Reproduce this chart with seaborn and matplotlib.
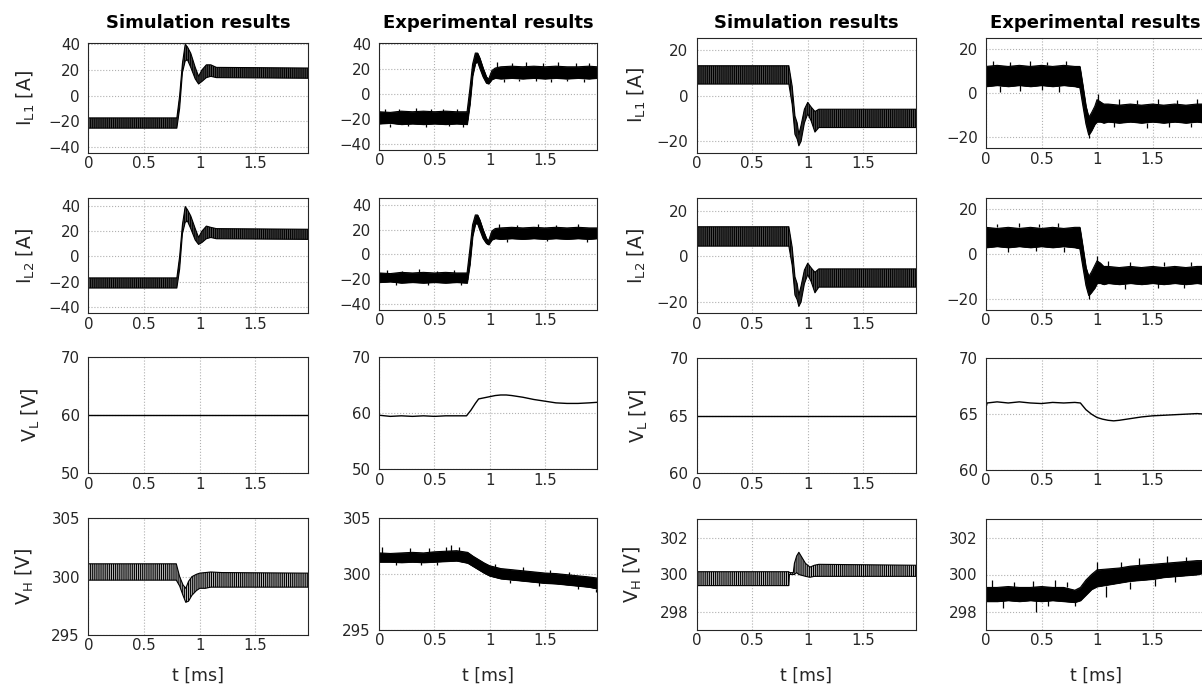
import numpy as np
import pandas as pd
import seaborn as sns
import matplotlib.pyplot as plt

# ---- case A (left half): step of the inductor currents from -20 A to +17 A ----
tA_sim_il = [0, 0.795, 0.82, 0.845, 0.87, 0.89, 0.92, 0.96, 0.99, 1.02, 1.06, 1.10, 1.15, 1.975]
simA_il1_hi = [-17.5, -17.5, 0, 25, 40, 38, 33, 22, 15, 20, 24, 24, 22, 21.5]
simA_il1_lo = [-25.5, -25.5, -10, 18, 27, 28, 22, 13, 9, 11, 14, 15, 14, 13.5]
simA_il2_hi = [-17, -17, 0, 25, 39.5, 37, 32, 22, 15, 20, 24, 23, 22, 21.5]
simA_il2_lo = [-25, -25, -10, 18, 27, 28, 22, 13, 9.5, 11, 14, 15, 14, 13.5]

tA_exp_il = [0, 0.1, 0.2, 0.3, 0.4, 0.5, 0.6, 0.7, 0.795, 0.82, 0.845, 0.87, 0.89, 0.91, 0.94, 0.97,
             0.99, 1.02, 1.05, 1.1, 1.2, 1.3, 1.4, 1.5, 1.6, 1.7, 1.8, 1.9, 1.975]
expA_il1_hi = [-14, -14.5, -13.5, -14, -13.5, -14, -13.5, -14, -14, 4, 24, 33, 33, 29, 21, 14,
               12, 19, 21, 22, 22.5, 22, 22.5, 22, 22.5, 22, 22, 22.5, 22]
expA_il1_lo = [-23.5, -23, -24, -23.5, -24, -23.5, -24, -23.5, -24, -8, 15, 25, 26, 21, 14, 9,
               8.5, 12, 13, 12.5, 13, 12.5, 13, 12.5, 13, 12.5, 13, 12.5, 13]
expA_il2_hi = [-15, -15.5, -14.5, -15, -14.5, -15, -14.5, -15, -15, 4, 24, 32, 32, 28, 20, 13,
               11, 19, 21, 21.5, 22, 21.5, 22, 21.5, 22, 21.5, 22, 21.5, 21.5]
expA_il2_lo = [-22.5, -22, -23, -22.5, -23, -22.5, -23, -22.5, -23, -8, 15, 25, 25, 20, 13, 9,
               8, 12, 13, 12.5, 13, 12.5, 13, 12.5, 13, 12.5, 13, 12.5, 13]
# noise spikes sticking out of the experimental bands: time, from, to
spkA_il1_t = [0.05, 0.18, 0.33, 0.47, 0.58, 0.7, 0.1, 0.26, 0.42, 0.63, 0.76,
              1.07, 1.2, 1.33, 1.48, 1.62, 1.78, 1.9, 1.13, 1.27, 1.42, 1.56, 1.7, 1.85]
spkA_il1_y0 = [-14, -14, -14, -14, -14, -14, -23.5, -23.5, -24, -24, -24,
               22, 22.5, 22, 22, 22.5, 22, 22, 12.5, 12.5, 13, 12.5, 12.5, 12.5]
spkA_il1_y1 = [-11.5, -12, -11, -11.5, -12, -11.5, -26, -25.5, -26, -25.5, -26,
               26, 25, 25.5, 25, 25.5, 25, 25, 10, 10.5, 10.5, 10, 10.5, 10]
spkA_il2_t = [0.07, 0.21, 0.36, 0.52, 0.68, 0.15, 0.44, 0.74, 1.08, 1.25, 1.44, 1.6, 1.8, 1.16, 1.52, 1.88]
spkA_il2_y0 = [-15, -15, -15, -15, -15, -22.5, -22.5, -22.5, 21.5, 22, 22, 22, 22, 12.5, 12.5, 12.5]
spkA_il2_y1 = [-12.5, -13, -12, -13, -12.5, -25, -24.5, -25, 24.5, 24, 25, 24, 25, 10, 10.5, 10]

tA_sim_vl = [0, 1.975]
simA_vl = [60, 60]
tA_exp_vl = [0, 0.1, 0.2, 0.3, 0.4, 0.5, 0.6, 0.7, 0.79, 0.83, 0.87, 0.9, 0.95, 1.0, 1.05, 1.1,
             1.15, 1.2, 1.3, 1.4, 1.5, 1.6, 1.7, 1.8, 1.9, 1.975]
expA_vl = [59.6, 59.4, 59.5, 59.4, 59.5, 59.4, 59.5, 59.5, 59.5, 60.5, 61.7, 62.5, 62.7, 62.9, 63.1, 63.2,
           63.2, 63.1, 62.8, 62.4, 62.1, 61.8, 61.7, 61.7, 61.8, 61.9]

tA_sim_vh = [0, 0.79, 0.82, 0.85, 0.875, 0.9, 0.93, 0.97, 1.0, 1.05, 1.1, 1.2, 1.975]
simA_vh_hi = [301.1, 301.1, 300.0, 299.3, 299.0, 299.6, 300.0, 300.2, 300.3, 300.35, 300.4, 300.35, 300.3]
simA_vh_lo = [299.7, 299.7, 299.2, 298.4, 297.8, 297.9, 298.4, 298.8, 299.0, 299.0, 299.1, 299.1, 299.1]

tA_exp_vh = [0, 0.1, 0.2, 0.3, 0.4, 0.5, 0.6, 0.7, 0.8, 0.85, 0.9, 0.95, 1.0, 1.1, 1.2, 1.3,
             1.4, 1.5, 1.6, 1.7, 1.8, 1.9, 1.975]
expA_vh_hi = [301.9, 301.85, 301.9, 301.95, 301.9, 302.0, 302.05, 302.1, 301.95, 301.6, 301.3, 301.0, 300.75,
              300.5, 300.4, 300.3, 300.2, 300.1, 300.05, 299.95, 299.85, 299.75, 299.65]
expA_vh_lo = [301.1, 301.1, 301.05, 301.1, 301.05, 301.1, 301.15, 301.2, 301.0, 300.7, 300.4, 300.1, 299.85,
              299.6, 299.5, 299.4, 299.3, 299.2, 299.15, 299.05, 298.95, 298.85, 298.7]
spkA_vh_t = [0.02, 0.28, 0.45, 0.6, 0.65, 0.72, 0.15, 0.38, 0.52, 1.05, 1.3, 1.55, 1.72, 1.18, 1.45, 1.8, 1.96]
spkA_vh_y0 = [301.9, 301.9, 301.9, 302.0, 302.1, 302.1, 301.1, 301.1, 301.1, 300.6, 300.3, 300.1, 299.9,
              299.5, 299.3, 299.0, 298.7]
spkA_vh_y1 = [302.4, 302.3, 302.35, 302.4, 302.6, 302.4, 300.8, 300.85, 300.8, 300.95, 300.6, 300.4, 300.2,
              299.2, 298.95, 298.7, 298.4]

# ---- case B (right half): step of the inductor currents from +9 A to -10 A ----
tB_sim_il = [0, 0.83, 0.86, 0.885, 0.905, 0.92, 0.94, 0.97, 1.0, 1.03, 1.065, 1.1, 1.975]
simB_il1_hi = [13, 13, 4, -9, -12, -17, -13, -6, -3, -5, -7, -6, -6]
simB_il1_lo = [5, 5, -4, -17, -19, -22, -20, -12, -8, -11, -16, -14, -14]
simB_il2_hi = [13, 13, 4, -9, -12, -17, -13, -6, -3, -5, -7, -5.5, -5.5]
simB_il2_lo = [4.5, 4.5, -4, -17, -19, -22, -20, -12, -8, -11, -16, -13.5, -13.5]

tB_exp_il = [0, 0.1, 0.2, 0.3, 0.4, 0.5, 0.6, 0.7, 0.8, 0.845, 0.87, 0.9, 0.925, 0.95, 0.98, 1.0,
             1.03, 1.06, 1.1, 1.2, 1.3, 1.4, 1.5, 1.6, 1.7, 1.8, 1.9, 1.975]
expB_il1_hi = [12, 12.5, 12, 12.5, 12, 12.5, 12, 12.5, 12, 12, 4, -6, -11, -9, -6, -3,
               -4, -5, -5, -5.5, -5, -5.5, -5, -5.5, -5, -5.5, -5, -5]
expB_il1_lo = [3, 3.5, 3, 3.5, 3, 3.5, 3, 3.5, 3, 2.5, -5, -14, -19, -17, -14, -13,
               -13, -13.5, -13, -13.5, -13, -13.5, -13, -13.5, -13, -13.5, -13, -13.5]
expB_il2_hi = [12, 11.5, 12, 11.5, 12, 11.5, 12, 11.5, 12, 12, 4, -6, -10, -8, -5, -3,
               -4, -5.5, -5.5, -6, -5.5, -6, -5.5, -6, -5.5, -6, -5.5, -5.5]
expB_il2_lo = [3, 3.5, 3, 3.5, 3, 3.5, 3, 3.5, 3, 2.5, -5, -14, -18.5, -17, -15, -13,
               -13, -13.5, -13, -13.5, -13, -13.5, -13, -13.5, -13, -13.5, -13, -13.5]
spkB_il1_t = [0.06, 0.22, 0.4, 0.55, 0.72, 0.13, 0.31, 0.5, 0.66,
              1.01, 1.2, 1.36, 1.55, 1.72, 1.9, 0.93, 1.15, 1.45, 1.65, 1.85]
spkB_il1_y0 = [12, 12, 12, 12.5, 12.5, 3, 3.5, 3.5, 3,
               -3, -5.5, -5, -5, -5, -5, -19, -13, -13.5, -13, -13.5]
spkB_il1_y1 = [14.5, 14, 14.5, 14, 14.5, 0.5, 1, 1.5, 0.5,
               -0.5, -2.5, -3, -2.5, -3, -2.5, -20.5, -15.5, -16, -15.5, -15.5]
spkB_il2_t = [0.1, 0.3, 0.48, 0.65, 0.2, 0.45, 0.7,
              1.0, 1.1, 1.3, 1.6, 1.85, 0.93, 1.25, 1.55, 1.78]
spkB_il2_y0 = [12, 12, 12, 12, 3, 3, 3, -3, -5.5, -5.5, -5.5, -5.5, -18.5, -13.5, -13, -13.5]
spkB_il2_y1 = [13.5, 14, 13.5, 14, 1, 1.5, 1, -1, -3, -3.5, -3.5, -3.5, -20, -15.5, -15, -15]

tB_sim_vl = [0, 1.975]
simB_vl = [65, 65]
tB_exp_vl = [0, 0.01, 0.1, 0.2, 0.3, 0.4, 0.5, 0.6, 0.7, 0.8, 0.85, 0.9, 0.95, 1.0, 1.05, 1.1,
             1.15, 1.2, 1.3, 1.4, 1.5, 1.6, 1.7, 1.8, 1.9, 1.975]
expB_vl = [65.6, 66.0, 66.1, 66.0, 66.1, 66.0, 65.95, 66.05, 66.0, 66.05, 66.0, 65.4, 65.0, 64.7, 64.55, 64.45,
           64.4, 64.45, 64.6, 64.75, 64.85, 64.9, 64.95, 65.0, 65.05, 65.0]

tB_sim_vh = [0, 0.83, 0.835, 0.87, 0.88, 0.9, 0.92, 0.95, 0.98, 1.02, 1.06, 1.1, 1.975]
simB_vh_hi = [300.15, 300.15, 300.1, 300.1, 300.6, 301.0, 301.2, 300.9, 300.6, 300.4, 300.5, 300.55, 300.5]
simB_vh_lo = [299.4, 299.4, 300.0, 300.0, 300.0, 300.1, 300.0, 299.95, 299.9, 299.85, 299.9, 299.9, 299.9]

tB_exp_vh = [0, 0.1, 0.2, 0.3, 0.4, 0.5, 0.6, 0.7, 0.8, 0.85, 0.9, 0.95, 1.0, 1.1, 1.2, 1.3,
             1.4, 1.5, 1.6, 1.7, 1.8, 1.9, 1.975]
expB_vh_hi = [299.3, 299.3, 299.35, 299.3, 299.3, 299.35, 299.3, 299.3, 299.15, 299.3, 299.7, 300.0, 300.25,
              300.3, 300.35, 300.45, 300.5, 300.55, 300.6, 300.65, 300.7, 300.75, 300.75]
expB_vh_lo = [298.55, 298.55, 298.6, 298.55, 298.6, 298.55, 298.6, 298.55, 298.5, 298.6, 298.9, 299.2, 299.35,
              299.45, 299.55, 299.65, 299.7, 299.75, 299.85, 299.9, 299.95, 300.0, 300.1]
spkB_vh_t = [0.05, 0.25, 0.42, 0.62, 0.73, 0.15, 0.45, 0.56, 0.8,
             1.0, 1.22, 1.38, 1.63, 1.8, 1.08, 1.3, 1.52, 1.7]
spkB_vh_y0 = [299.3, 299.3, 299.3, 299.3, 299.3, 298.6, 298.6, 298.6, 298.5,
              300.25, 300.35, 300.5, 300.6, 300.7, 299.4, 299.6, 299.75, 299.9]
spkB_vh_y1 = [299.7, 299.6, 299.65, 299.7, 299.6, 298.2, 298.0, 298.3, 298.3,
              300.7, 300.7, 300.9, 301.0, 300.95, 298.8, 299.2, 299.4, 299.6]

xticks = [0, 0.5, 1, 1.5]
xticklabels = ['0', '0.5', '1', '1.5']
titles = ['Simulation results', 'Experimental results', 'Simulation results', 'Experimental results']

sns.set_style('white')
plt.rcParams['font.family'] = ['DejaVu Sans']
plt.rcParams['mathtext.fontset'] = 'dejavusans'
plt.rcParams['hatch.color'] = 'black'
plt.rcParams['hatch.linewidth'] = 0.8

W, H = 1202, 690
fig = plt.figure(figsize=(W / 100, H / 100), dpi=100)

# pixel boxes (left, right) per column and (top, bottom) per column / row
col_x = [(88.3, 308.3), (379.3, 597.3), (696.7, 916.0), (986.0, 1205.3)]
row_y = [
    [(42.7, 152.7), (198.3, 313.3), (356.7, 473.3), (518.3, 635.0)],
    [(42.7, 150.0), (198.3, 310.0), (356.7, 469.3), (518.3, 630.0)],
    [(38.3, 152.7), (198.3, 313.3), (358.3, 473.3), (519.0, 630.0)],
    [(37.7, 148.3), (198.3, 310.0), (358.3, 470.0), (519.0, 630.0)],
]
ylims = [
    [(-44.7, 41.3), (-45, 46), (50, 70), (295, 305)],
    [(-44.6, 41.3), (-45, 45.5), (50, 70), (295, 305)],
    [(-25, 25), (-25, 25.5), (60, 70), (297, 303)],
    [(-25, 25), (-25, 25), (60, 70), (297, 303)],
]
yticks = [
    [[-40, -20, 0, 20, 40], [-40, -20, 0, 20, 40], [50, 60, 70], [295, 300, 305]],
    [[-40, -20, 0, 20, 40], [-40, -20, 0, 20, 40], [50, 60, 70], [295, 300, 305]],
    [[-20, 0, 20], [-20, 0, 20], [60, 65, 70], [298, 300, 302]],
    [[-20, 0, 20], [-20, 0, 20], [60, 65, 70], [298, 300, 302]],
]
ylabels = [r'I$_{\mathrm{L1}}$ [A]', r'I$_{\mathrm{L2}}$ [A]', r'V$_{\mathrm{L}}$ [V]', r'V$_{\mathrm{H}}$ [V]']
ylabel_off = [[-62.5, -62.5, -57.5, -63.3], None, [-60, -60, -57.5, -63.5], None]

# what goes in each cell: ('band', t, lo, hi, kind, spikes) or ('line', t, y)
cells = [
    [('band', tA_sim_il, simA_il1_lo, simA_il1_hi, 'sim', None),
     ('band', tA_sim_il, simA_il2_lo, simA_il2_hi, 'sim', None),
     ('line', tA_sim_vl, simA_vl),
     ('band', tA_sim_vh, simA_vh_lo, simA_vh_hi, 'simv', None)],
    [('band', tA_exp_il, expA_il1_lo, expA_il1_hi, 'exp', (spkA_il1_t, spkA_il1_y0, spkA_il1_y1)),
     ('band', tA_exp_il, expA_il2_lo, expA_il2_hi, 'exp', (spkA_il2_t, spkA_il2_y0, spkA_il2_y1)),
     ('line', tA_exp_vl, expA_vl),
     ('band', tA_exp_vh, expA_vh_lo, expA_vh_hi, 'exp', (spkA_vh_t, spkA_vh_y0, spkA_vh_y1))],
    [('band', tB_sim_il, simB_il1_lo, simB_il1_hi, 'sim', None),
     ('band', tB_sim_il, simB_il2_lo, simB_il2_hi, 'sim', None),
     ('line', tB_sim_vl, simB_vl),
     ('band', tB_sim_vh, simB_vh_lo, simB_vh_hi, 'simv', None)],
    [('band', tB_exp_il, expB_il1_lo, expB_il1_hi, 'exp', (spkB_il1_t, spkB_il1_y0, spkB_il1_y1)),
     ('band', tB_exp_il, expB_il2_lo, expB_il2_hi, 'exp', (spkB_il2_t, spkB_il2_y0, spkB_il2_y1)),
     ('line', tB_exp_vl, expB_vl),
     ('band', tB_exp_vh, expB_vh_lo, expB_vh_hi, 'exp', (spkB_vh_t, spkB_vh_y0, spkB_vh_y1))],
]

dark = '#262626'
for c in range(4):
    x0, x1 = col_x[c]
    for r in range(4):
        y0, y1 = row_y[c][r]
        ax = fig.add_axes([x0 / W, 1 - y1 / H, (x1 - x0) / W, (y1 - y0) / H])
        ax.set_axisbelow(True)
        cell = cells[c][r]
        if cell[0] == 'line':
            df = pd.DataFrame({'t': cell[1], 'v': cell[2]})
            sns.lineplot(data=df, x='t', y='v', ax=ax, color='black', lw=1.0)
        else:
            df = pd.DataFrame({'t': cell[1], 'lo': cell[2], 'hi': cell[3]})
            if cell[4] == 'sim':
                ax.fill_between(df['t'], df['lo'], df['hi'], facecolor='0.3',
                                edgecolor='black', hatch='||||||||', linewidth=0)
            elif cell[4] == 'simv':
                ax.fill_between(df['t'], df['lo'], df['hi'], facecolor='0.75',
                                edgecolor='black', hatch='||||||||', linewidth=0)
            else:
                ax.fill_between(df['t'], df['lo'], df['hi'], color='black', linewidth=0.6)
            sns.lineplot(data=df, x='t', y='hi', ax=ax, color='black', lw=0.8)
            sns.lineplot(data=df, x='t', y='lo', ax=ax, color='black', lw=0.8)
            if cell[5] is not None:
                ax.vlines(cell[5][0], cell[5][1], cell[5][2], color='black', lw=0.9)

        ax.set_xlim(0, 1.975)
        ax.set_ylim(*ylims[c][r])
        ax.set_xticks(xticks)
        ax.set_xticklabels(xticklabels)
        ax.set_yticks(yticks[c][r])
        ax.grid(True, ls=':', color='#b0b0b0', lw=0.8)
        ax.tick_params(direction='in', length=3, width=0.6, color=dark, labelcolor=dark, labelsize=10.8)
        ax.tick_params(axis='x', pad=2.5)
        ax.tick_params(axis='y', pad=6)
        for s in ax.spines.values():
            s.set_color(dark)
            s.set_linewidth(0.8)
            s.set_visible(True)

        if ylabel_off[c] is not None:
            ax.set_ylabel(ylabels[r], fontsize=13.5, color=dark, va='center')
            ax.yaxis.set_label_coords(ylabel_off[c][r] / (x1 - x0), 0.5)
        else:
            ax.set_ylabel('')
        if r == 3:
            ax.set_xlabel('t [ms]', fontsize=12.5, color=dark, va='top')
            ax.xaxis.set_label_coords(0.5, -(667 - y1) / (y1 - y0))
        else:
            ax.set_xlabel('')

    tx = (x0 + x1) / 2 if c < 3 else x0 + 109.6
    fig.text(tx / W, 1 - 28 / H, titles[c],
             ha='center', va='baseline', fontsize=13, fontweight='bold', color='black')

fig.savefig('out.png', dpi=100)
